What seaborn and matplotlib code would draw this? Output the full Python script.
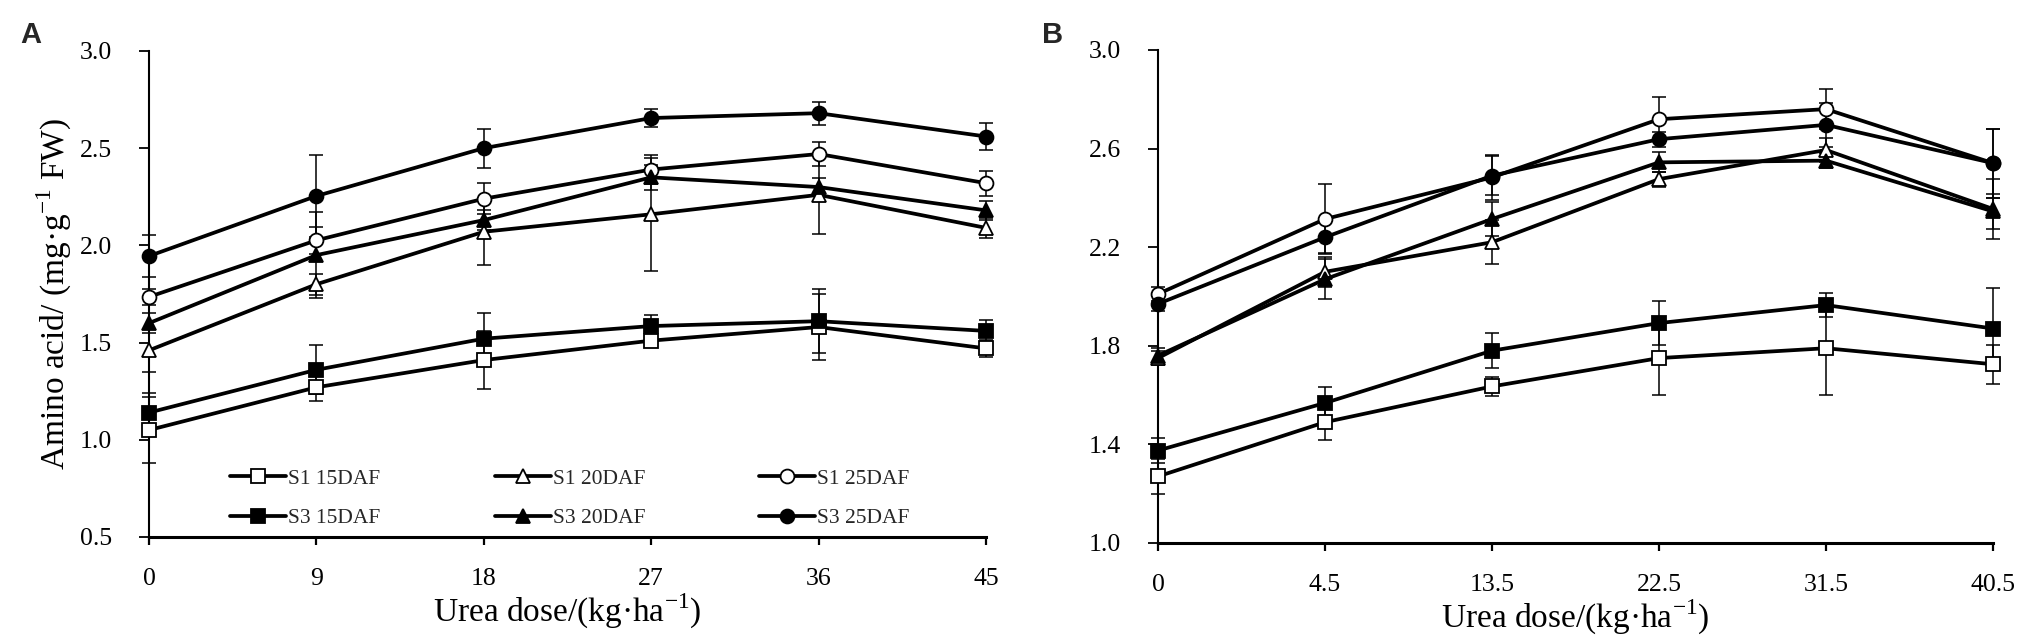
import numpy as np
import pandas as pd
import matplotlib
matplotlib.use("Agg")
import matplotlib.pyplot as plt
import seaborn as sns

# ---------------- data ----------------
series = ["S1 15DAF", "S1 20DAF", "S1 25DAF", "S3 15DAF", "S3 20DAF", "S3 25DAF"]

doses_a = ["0", "9", "18", "27", "36", "45"]
a_s1_15 = [1.05, 1.27, 1.41, 1.51, 1.58, 1.47]
a_s1_15_err = [0.17, 0.07, 0.15, 0.03, 0.17, 0.045]
a_s3_15 = [1.14, 1.36, 1.52, 1.585, 1.61, 1.56]
a_s3_15_err = [0.10, 0.125, 0.13, 0.057, 0.165, 0.055]
a_s1_20 = [1.46, 1.80, 2.07, 2.16, 2.26, 2.09]
a_s1_20_err = [0.11, 0.055, 0.17, 0.29, 0.20, 0.05]
a_s3_20 = [1.60, 1.95, 2.13, 2.35, 2.30, 2.18]
a_s3_20_err = [0.05, 0.22, 0.05, 0.065, 0.045, 0.05]
a_s1_25 = [1.735, 2.026, 2.24, 2.39, 2.47, 2.32]
a_s1_25_err = [0.04, 0.07, 0.08, 0.075, 0.06, 0.065]
a_s3_25 = [1.945, 2.254, 2.50, 2.655, 2.68, 2.56]
a_s3_25_err = [0.11, 0.21, 0.10, 0.045, 0.06, 0.07]

doses_b = ["0", "4.5", "13.5", "22.5", "31.5", "40.5"]
b_s1_15 = [1.27, 1.49, 1.635, 1.75, 1.79, 1.725]
b_s1_15_err = [0.07, 0.074, 0.04, 0.15, 0.19, 0.08]
b_s3_15 = [1.375, 1.568, 1.78, 1.892, 1.965, 1.87]
b_s3_15_err = [0.05, 0.063, 0.07, 0.09, 0.05, 0.165]
b_s1_20 = [1.75, 2.10, 2.22, 2.476, 2.594, 2.355]
b_s1_20_err = [0.03, 0.06, 0.09, 0.03, 0.05, 0.12]
b_s3_20 = [1.76, 2.07, 2.314, 2.544, 2.551, 2.345]
b_s3_20_err = [0.03, 0.08, 0.07, 0.04, 0.03, 0.07]
b_s1_25 = [2.01, 2.314, 2.483, 2.719, 2.76, 2.541]
b_s1_25_err = [0.03, 0.142, 0.09, 0.09, 0.08, 0.14]
b_s3_25 = [1.97, 2.24, 2.49, 2.638, 2.696, 2.541]
b_s3_25_err = [0.03, 0.065, 0.08, 0.03, 0.09, 0.14]

yticks_a = [0.5, 1.0, 1.5, 2.0, 2.5, 3.0]
yticks_b = [1.0, 1.4, 1.8, 2.2, 2.6, 3.0]

panel_a = {
    "S1 15DAF": (a_s1_15, a_s1_15_err), "S1 20DAF": (a_s1_20, a_s1_20_err),
    "S1 25DAF": (a_s1_25, a_s1_25_err), "S3 15DAF": (a_s3_15, a_s3_15_err),
    "S3 20DAF": (a_s3_20, a_s3_20_err), "S3 25DAF": (a_s3_25, a_s3_25_err),
}
panel_b = {
    "S1 15DAF": (b_s1_15, b_s1_15_err), "S1 20DAF": (b_s1_20, b_s1_20_err),
    "S1 25DAF": (b_s1_25, b_s1_25_err), "S3 15DAF": (b_s3_15, b_s3_15_err),
    "S3 20DAF": (b_s3_20, b_s3_20_err), "S3 25DAF": (b_s3_25, b_s3_25_err),
}

style = {
    "S1 15DAF": ("s", "white", 9.5), "S1 20DAF": ("^", "white", 10),
    "S1 25DAF": ("o", "white", 10), "S3 15DAF": ("s", "black", 9.5),
    "S3 20DAF": ("^", "black", 10), "S3 25DAF": ("o", "black", 10),
}

# ---------------- style ----------------
sns.set_theme(style="white")
plt.rcParams["font.family"] = ["Liberation Serif", "DejaVu Serif"]
plt.rcParams["mathtext.fontset"] = "custom"
plt.rcParams["mathtext.rm"] = "Liberation Serif"

fig = plt.figure(figsize=(20.33, 6.37), dpi=100)
axA = fig.add_axes([0.0733, 0.157, 0.4117, 0.763])
axB = fig.add_axes([0.5696, 0.1476, 0.4107, 0.774])


def draw(ax, doses, data, yticks):
    pos = np.arange(len(doses))
    for name in series:
        vals, errs = data[name]
        ax.errorbar(pos, vals, yerr=errs, fmt="none", ecolor="black",
                    elinewidth=1.1, capsize=4.7, capthick=1.1, zorder=2,
                    clip_on=False)
    for name in series:
        vals, errs = data[name]
        m, fc, ms = style[name]
        df = pd.DataFrame({"pos": pos, "val": vals})
        sns.lineplot(data=df, x="pos", y="val", ax=ax, color="black",
                     linewidth=2.7, marker=m, markersize=ms,
                     markerfacecolor=fc, markeredgecolor="black",
                     markeredgewidth=1.3, label=name, zorder=3,
                     clip_on=False, legend=False)
    ax.set_xlim(0, len(doses) - 1)
    ax.set_ylim(yticks[0], yticks[-1])
    ax.set_xticks(pos)
    ax.set_xticklabels(doses)
    ax.set_yticks(yticks)
    ax.set_yticklabels([f"{t:.1f}" for t in yticks])
    for s in ["top", "right"]:
        ax.spines[s].set_visible(False)
    ax.spines["left"].set_linewidth(1.5)
    ax.spines["bottom"].set_linewidth(2.2)
    ax.spines["left"].set_color("black")
    ax.spines["bottom"].set_color("black")
    ax.tick_params(axis="x", direction="out", length=5.5, width=1.6,
                   pad=17, labelsize=18.5, colors="black", bottom=True)
    ax.tick_params(axis="y", direction="out", length=7.5, width=1.3,
                   pad=19, labelsize=18.5, colors="black", left=True)
    ax.set_xlabel("Urea dose/(kg·ha$^{\\mathregular{-1}}$)", fontsize=24,
                  color="black", labelpad=1)
    ax.set_facecolor("white")


draw(axA, doses_a, panel_a, yticks_a)
draw(axB, doses_b, panel_b, yticks_b)
axA.set_ylabel("Amino acid/ (mg·g$^{\\mathregular{-1}}$ FW)", fontsize=24,
               color="black", labelpad=4)
axB.set_ylabel("")

# legend (column-major order for ncol=3)
handles, labels = axA.get_legend_handles_labels()
lookup = dict(zip(labels, handles))
order = ["S1 15DAF", "S3 15DAF", "S1 20DAF", "S3 20DAF", "S1 25DAF", "S3 25DAF"]
leg = axA.legend([lookup[k] for k in order], order, ncol=3, loc="center",
                 bbox_to_anchor=(0.503, 0.079), frameon=False, fontsize=15.5,
                 handlelength=2.6, handletextpad=0.1, columnspacing=5.3,
                 labelspacing=0.9, borderpad=0, numpoints=1)

fig.text(31 / 2033, 1 - 35 / 637, "A", fontsize=21, fontweight="bold",
         family=["Liberation Sans", "DejaVu Sans"], ha="center", va="center")
fig.text(1053 / 2033, 1 - 35 / 637, "B", fontsize=21, fontweight="bold",
         family=["Liberation Sans", "DejaVu Sans"], ha="center", va="center")

fig.savefig("out.png", dpi=100, facecolor="white")
